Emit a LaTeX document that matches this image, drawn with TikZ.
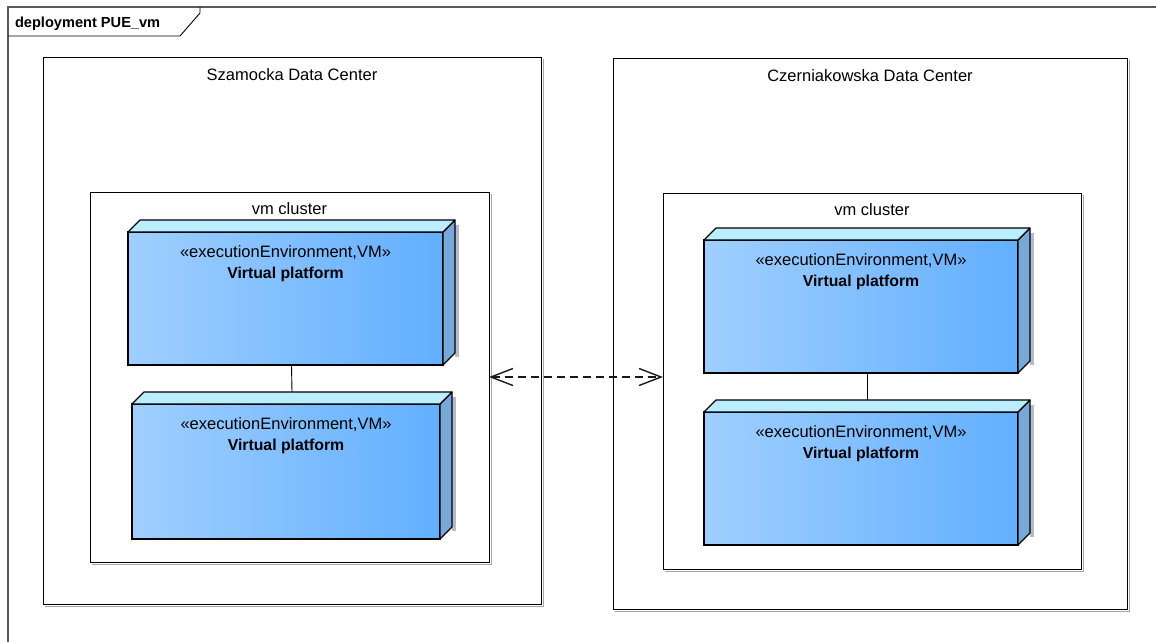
\documentclass[tikz,border=0pt]{standalone}
\usepackage{fontspec}
\setmainfont{Liberation Sans}
\usetikzlibrary{arrows.meta}
\definecolor{vmL}{RGB}{160,207,255}
\definecolor{vmR}{RGB}{98,175,255}
\definecolor{vmTop}{RGB}{186,238,255}
\definecolor{vmSide}{RGB}{120,168,216}
\definecolor{vmShadow}{RGB}{178,186,204}
\definecolor{frameGray}{RGB}{90,90,90}
\tikzset{
  txt/.style={font=\fontsize{16.5}{19}\selectfont, inner sep=0, outer sep=0},
  btxt/.style={font=\fontsize{15.8}{19}\selectfont\bfseries, inner sep=0, outer sep=0},
  ftxt/.style={font=\fontsize{14.6}{18}\selectfont\bfseries, inner sep=0, outer sep=0},
  box/.style={draw=black, line width=0.9pt, inner sep=0, outer sep=0},
  boxshadow/.style={draw=gray!70, line width=1pt},
  vmfront/.style={draw=black, line width=1.1pt, left color=vmL, right color=vmR, inner sep=0, outer sep=0},
  vmface/.style={draw=black, line width=1.1pt, line join=round},
  link/.style={draw=black, line width=0.9pt},
  dep/.style={draw=black!90, line width=1.4pt, dash pattern=on 8pt off 5pt,
    {Straight Barb[length=22pt,width=17pt,line width=1.4pt]}-{Straight Barb[length=22pt,width=17pt,line width=1.4pt]}},
}
% #1 name, #2 cx, #3 cy, #4 w, #5 h
\newcommand{\vmnode}[5]{%
  \node[vmfront, minimum width=#4pt, minimum height=#5pt] (#1) at (#2,#3) {};
  \fill[vmShadow] ([xshift=12pt,yshift=7pt]#1.north east) rectangle ([xshift=16pt,yshift=8pt]#1.south east);
  \filldraw[vmface, fill=vmSide] (#1.north east) -- ++(12,-12) -- ([xshift=12pt,yshift=12pt]#1.south east) -- (#1.south east) -- cycle;
  \filldraw[vmface, fill=vmTop] (#1.north west) -- ++(12,-12) -- ([xshift=12pt,yshift=12pt]#1.north east) -- (#1.north east) -- cycle;
  \node[txt, anchor=base] (#1s) at ([yshift=-25pt]#1.north) {«executionEnvironment,VM»};
  \node[btxt, anchor=base] (#1t) at ([yshift=-46pt]#1.north) {Virtual platform};
}
\begin{document}
\begin{tikzpicture}[x=1pt,y=-1pt]
\useasboundingbox (0,0) rectangle (1156,641);
% frame
\draw[frameGray, line width=1.2pt] (8,645) -- (8,7) -- (1160,7);
\draw[black, line width=0.9pt] (8,36) -- (180,36) -- (200,13) -- (200,7);
\node[ftxt, anchor=base west] (ftitle) at (15,27) {deployment PUE\_vm};

% outer containers
\draw[boxshadow] (45,606) -- (543,606) -- (543,59);
\node[box, minimum width=498pt, minimum height=547pt] (szam) at (292,330.5) {};
\node[txt, anchor=base] (szamt) at ([yshift=-23pt]szam.north) {Szamocka Data Center};

\draw[boxshadow] (615,611) -- (1129,611) -- (1129,60);
\node[box, minimum width=514pt, minimum height=551pt] (czer) at (870,333.5) {};
\node[txt, anchor=base] (czert) at ([yshift=-23pt]czer.north) {Czerniakowska Data Center};

% clusters
\draw[boxshadow] (92,564) -- (491,564) -- (491,194);
\node[box, minimum width=399pt, minimum height=370pt] (lc) at (289.5,377) {};
\node[txt, anchor=base] (lct) at ([yshift=-22pt]lc.north) {vm cluster};

\draw[boxshadow] (665,571) -- (1083,571) -- (1083,195);
\node[box, minimum width=418pt, minimum height=376pt] (rc) at (872,381) {};
\node[txt, anchor=base] (rct) at ([yshift=-22pt]rc.north) {vm cluster};

% VM nodes
\vmnode{na}{285.5}{298.5}{315}{133}
\vmnode{nb}{286}{471.5}{308}{135}
\vmnode{nc}{861}{306.5}{314}{133}
\vmnode{nd}{861}{478.5}{314}{133}

% connectors
\draw[link] ([xshift=6pt]na.south) -- ([xshift=6pt,yshift=12pt]nb.north);
\draw[link] ([xshift=6pt]nc.south) -- ([xshift=6pt,yshift=12pt]nd.north);
\draw[dep] (lc.east) -- (rc.west |- lc.east);
\end{tikzpicture}
\end{document}
